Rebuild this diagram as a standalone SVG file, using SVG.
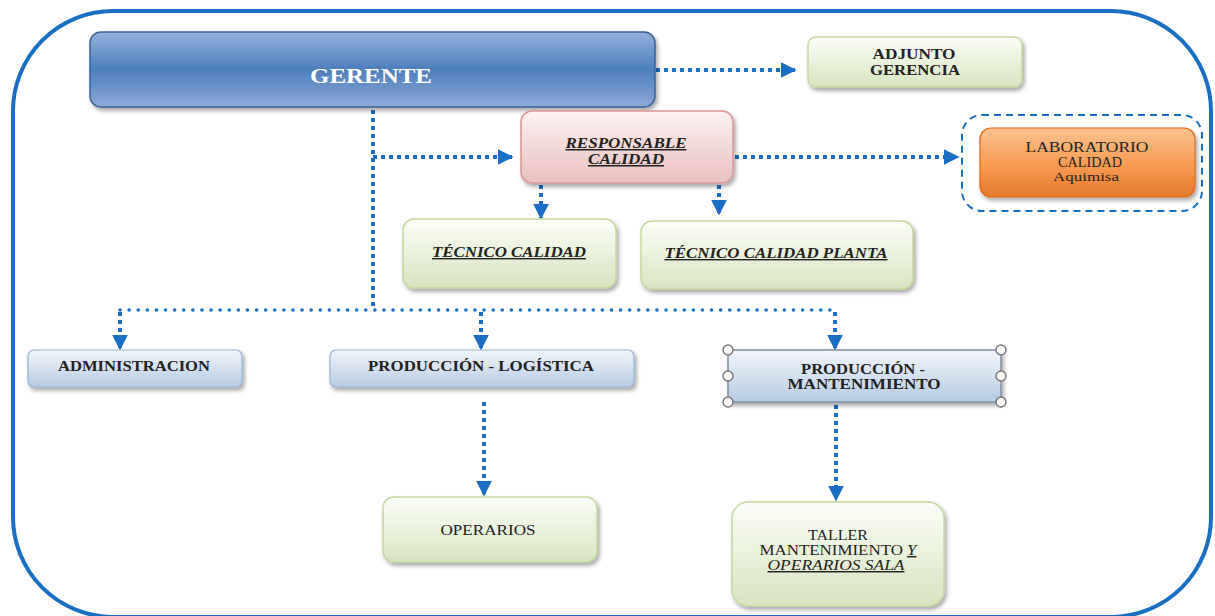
<svg xmlns="http://www.w3.org/2000/svg" width="1215" height="616" viewBox="0 0 1215 616" font-family="Liberation Serif, DejaVu Serif, serif">
<defs>
<linearGradient id="gBlue" x1="0" y1="0" x2="0" y2="1">
<stop offset="0" stop-color="#93b1da"/><stop offset="0.5" stop-color="#4d7fbd"/><stop offset="1" stop-color="#8cabd6"/>
</linearGradient>
<linearGradient id="gGreen" x1="0" y1="0" x2="0" y2="1">
<stop offset="0" stop-color="#fbfdf7"/><stop offset="1" stop-color="#d8e5bf"/>
</linearGradient>
<linearGradient id="gPink" x1="0" y1="0" x2="0" y2="1">
<stop offset="0" stop-color="#fdf1f1"/><stop offset="1" stop-color="#e8c0bf"/>
</linearGradient>
<linearGradient id="gOrange" x1="0" y1="0" x2="0" y2="1">
<stop offset="0" stop-color="#fbc293"/><stop offset="0.55" stop-color="#f79a50"/><stop offset="1" stop-color="#e4782a"/>
</linearGradient>
<linearGradient id="gLBlue" x1="0" y1="0" x2="0" y2="1">
<stop offset="0" stop-color="#f2f6fb"/><stop offset="1" stop-color="#b6cbe4"/>
</linearGradient>
<filter id="sh" x="-10%" y="-20%" width="120%" height="150%">
<feDropShadow dx="2" dy="3" stdDeviation="2" flood-color="#000" flood-opacity="0.35"/>
</filter>
<marker id="arr" viewBox="0 0 10 10" refX="9" refY="5" markerWidth="4" markerHeight="4" orient="auto" markerUnits="strokeWidth">
<path d="M0,0 L10,5 L0,10 Z" fill="#1a6fc4"/>
</marker>
<style>
text{text-anchor:middle;fill:#222}
.b{font-weight:bold}
.i{font-style:italic;text-decoration:underline}
.c{fill:none;stroke:#1a6fc4;stroke-width:4;stroke-dasharray:4 4}
.h{fill:none;stroke:#1a6fc4;stroke-width:3.5;stroke-linecap:round;stroke-dasharray:0.1 9}
.hd{fill:#fff;stroke:#7a7a7a;stroke-width:1.5}
</style>
</defs>
<rect x="0" y="0" width="1215" height="616" fill="#fff"/>
<rect id="frame" x="13" y="11" width="1198" height="606" rx="100" ry="100" fill="none" stroke="#1a6fc4" stroke-width="4"/>

<g id="connectors">
<line class="c" x1="656" y1="70" x2="795" y2="70" marker-end="url(#arr)"/>
<line class="c" x1="373" y1="110" x2="373" y2="310"/>
<line class="c" x1="373" y1="157" x2="512" y2="157" marker-end="url(#arr)"/>
<line class="c" x1="735" y1="157" x2="958" y2="157" marker-end="url(#arr)"/>
<line class="c" x1="541" y1="185" x2="541" y2="218" marker-end="url(#arr)"/>
<line class="c" x1="719" y1="185" x2="719" y2="214" marker-end="url(#arr)"/>
<line class="h" x1="120" y1="310" x2="835" y2="310"/>
<line class="c" x1="120" y1="312" x2="120" y2="349" marker-end="url(#arr)"/>
<line class="c" x1="481" y1="312" x2="481" y2="349" marker-end="url(#arr)"/>
<line class="c" x1="835" y1="312" x2="835" y2="349" marker-end="url(#arr)"/>
<line class="c" x1="484" y1="402" x2="484" y2="495" marker-end="url(#arr)"/>
<line class="c" x1="836" y1="405" x2="836" y2="500" marker-end="url(#arr)"/>
</g>

<g id="gerente">
<rect x="90" y="32" width="565" height="75" rx="11" fill="url(#gBlue)" stroke="#3b6296" stroke-width="1.5" filter="url(#sh)"/>
<text class="b" x="371" y="83" font-size="21" style="fill:#fff" textLength="122" lengthAdjust="spacingAndGlyphs">GERENTE</text>
</g>

<g id="adjunto">
<rect x="808" y="37" width="214" height="50" rx="8" fill="url(#gGreen)" stroke="#c5d89f" stroke-width="1.5" filter="url(#sh)"/>
<text class="b" x="914" y="59" font-size="15" textLength="83" lengthAdjust="spacingAndGlyphs">ADJUNTO</text>
<text class="b" x="915" y="75" font-size="15" textLength="90" lengthAdjust="spacingAndGlyphs">GERENCIA</text>
</g>

<g id="responsable">
<rect x="521" y="111" width="212" height="72" rx="11" fill="url(#gPink)" stroke="#d99694" stroke-width="1.5" filter="url(#sh)"/>
<text class="b i" x="626" y="148" font-size="15" textLength="121" lengthAdjust="spacingAndGlyphs">RESPONSABLE</text>
<text class="b i" x="626" y="164" font-size="15" textLength="76" lengthAdjust="spacingAndGlyphs">CALIDAD</text>
</g>

<g id="laboratorio">
<rect x="962" y="115" width="240" height="96" rx="20" fill="none" stroke="#1a6fc4" stroke-width="2" stroke-dasharray="7 5"/>
<rect x="980" y="128" width="215" height="69" rx="11" fill="url(#gOrange)" stroke="#e06c18" stroke-width="1.2" filter="url(#sh)"/>
<text x="1087" y="152" font-size="15" textLength="123" lengthAdjust="spacingAndGlyphs">LABORATORIO</text>
<text x="1090" y="167" font-size="15" textLength="64" lengthAdjust="spacingAndGlyphs">CALIDAD</text>
<text x="1086" y="181" font-size="13.5" textLength="66" lengthAdjust="spacingAndGlyphs">Aquimisa</text>
</g>

<g id="tecnico">
<rect x="403" y="219" width="213" height="69" rx="11" fill="url(#gGreen)" stroke="#c5d89f" stroke-width="1.5" filter="url(#sh)"/>
<text class="b i" x="509" y="257" font-size="14" textLength="154" lengthAdjust="spacingAndGlyphs">TÉCNICO CALIDAD</text>
</g>

<g id="tecnico-planta">
<rect x="641" y="221" width="272" height="68" rx="11" fill="url(#gGreen)" stroke="#c5d89f" stroke-width="1.5" filter="url(#sh)"/>
<text class="b i" x="776" y="258" font-size="14" textLength="223" lengthAdjust="spacingAndGlyphs">TÉCNICO CALIDAD PLANTA</text>
</g>

<g id="administracion">
<rect x="28" y="350" width="214" height="37" rx="6" fill="url(#gLBlue)" stroke="#95b3d7" stroke-width="1.2" filter="url(#sh)"/>
<text class="b" x="134" y="371" font-size="14" textLength="152" lengthAdjust="spacingAndGlyphs">ADMINISTRACION</text>
</g>

<g id="produccion-logistica">
<rect x="330" y="350" width="304" height="37" rx="6" fill="url(#gLBlue)" stroke="#95b3d7" stroke-width="1.2" filter="url(#sh)"/>
<text class="b" x="481" y="371" font-size="14" textLength="226" lengthAdjust="spacingAndGlyphs">PRODUCCIÓN - LOGÍSTICA</text>
</g>

<g id="produccion-mantenimiento">
<rect x="728" y="350" width="273" height="52" rx="2" fill="url(#gLBlue)" stroke="#7f8fa6" stroke-width="1.5" filter="url(#sh)"/>
<text class="b" x="863" y="374" font-size="14" textLength="124" lengthAdjust="spacingAndGlyphs">PRODUCCIÓN -</text>
<text class="b" x="864" y="389" font-size="14" textLength="153" lengthAdjust="spacingAndGlyphs">MANTENIMIENTO</text>
<circle class="hd" cx="728" cy="350" r="5"/>
<circle class="hd" cx="1001" cy="350" r="5"/>
<circle class="hd" cx="728" cy="376" r="5"/>
<circle class="hd" cx="1001" cy="376" r="5"/>
<circle class="hd" cx="728" cy="402" r="5"/>
<circle class="hd" cx="1001" cy="402" r="5"/>
</g>

<g id="operarios">
<rect x="383" y="497" width="214" height="65" rx="11" fill="url(#gGreen)" stroke="#c5d89f" stroke-width="1.5" filter="url(#sh)"/>
<text x="488" y="535" font-size="14.5" textLength="95" lengthAdjust="spacingAndGlyphs">OPERARIOS</text>
</g>

<g id="taller">
<rect x="732" y="502" width="212" height="104" rx="16" fill="url(#gGreen)" stroke="#c5d89f" stroke-width="1.5" filter="url(#sh)"/>
<text x="838" y="540" font-size="14.5" textLength="60" lengthAdjust="spacingAndGlyphs">TALLER</text>
<text x="838" y="555" font-size="14.5" textLength="157" lengthAdjust="spacingAndGlyphs">MANTENIMIENTO <tspan font-style="italic" text-decoration="underline">Y</tspan></text>
<text class="i" x="836" y="570" font-size="14.5" textLength="137" lengthAdjust="spacingAndGlyphs">OPERARIOS  SALA</text>
</g>
</svg>
